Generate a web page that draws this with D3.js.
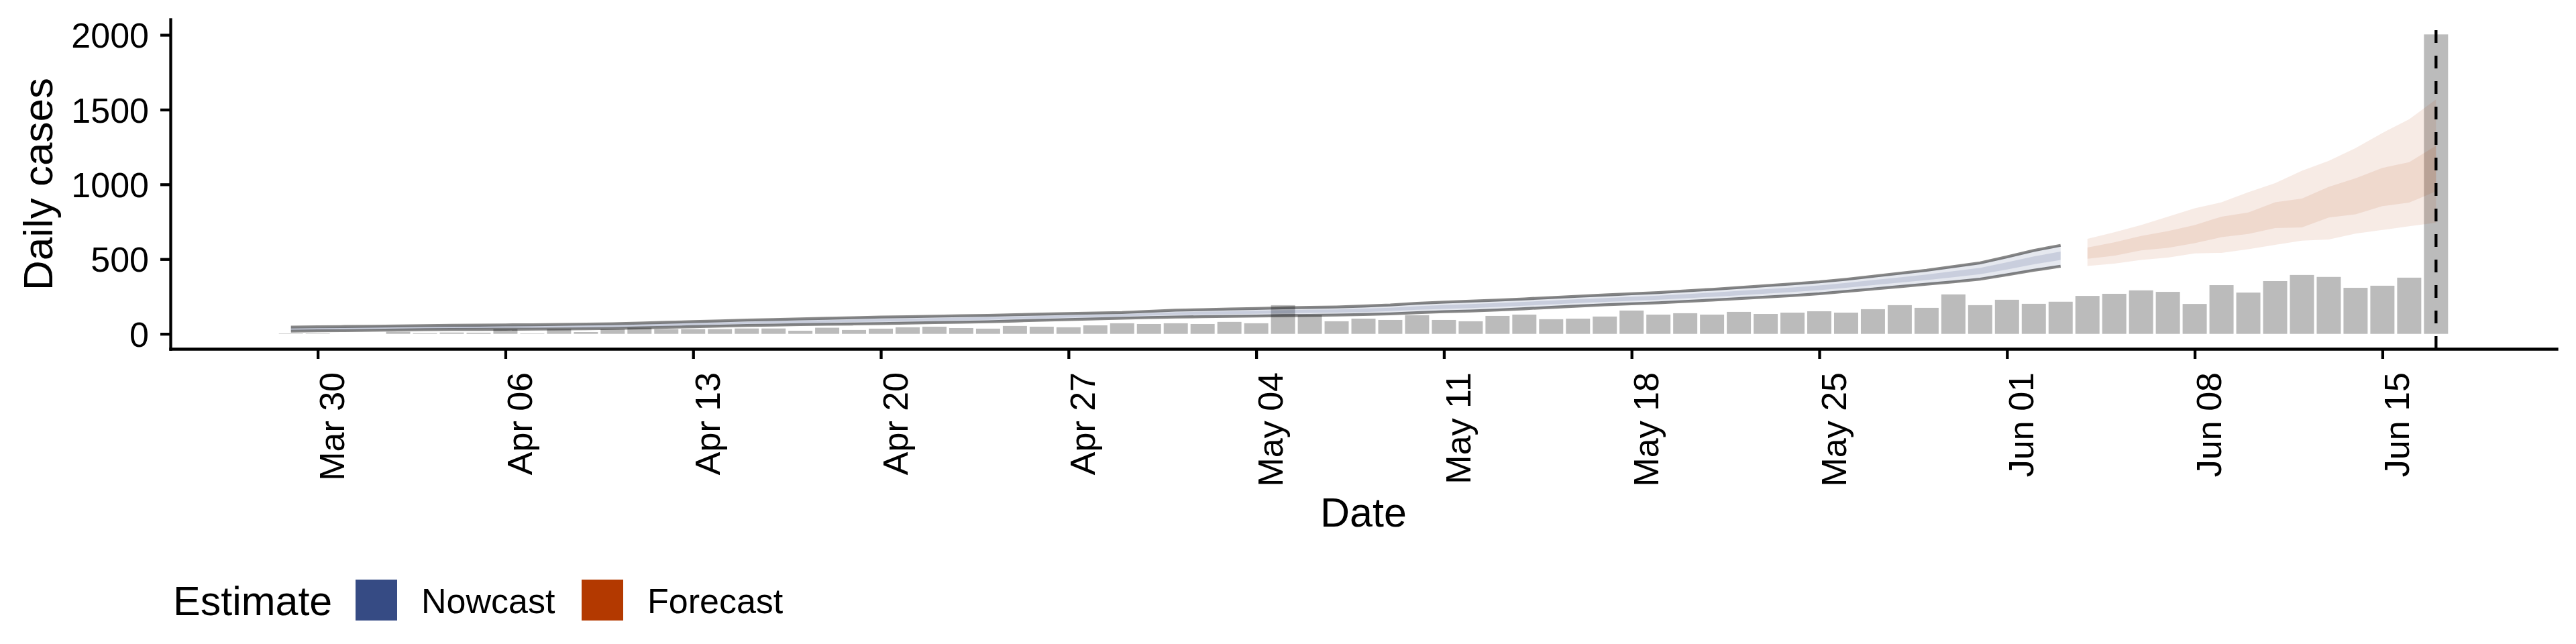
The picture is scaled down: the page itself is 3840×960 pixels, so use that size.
<!DOCTYPE html>
<html><head><meta charset="utf-8">
<script src="https://cdn.jsdelivr.net/npm/d3@7"></script>
<style>
body{margin:0;background:#fff}
svg text{font-family:"Liberation Sans",Arial,Helvetica,sans-serif;fill:#000}
</style>
</head><body>
<svg id="chart" width="3840" height="960"></svg>
<script>
// ---------------- data ----------------
const caseStart = "2020-03-29";          // first reported-case date (daily)
const cases = [3,3,0,0,14,5,9,8,32,3,32,12,32,41,32,32,32,36,36,21,41,26,
  35,44,48,39,35,53,48,44,57,71,66,
  71,66,80,71,192,125,84,102,93,125,93,84,120,129,98,102,116,156,129,138,129,147,133,142,151,142,165,192,174,264,192,
  228,201,215,254,268,291,281,200,326,276,353,394,381,308,322,376,2003];

const nowcastStart = "2020-03-29";       // nowcast ribbons, daily to Jun 03
const nowLower90 = [18,20,22,24,26,28,29,30,31,32,33,34,36,40,44,48,52,56,59,62,64,66,69,72,75,78,81,86,91,96,100,105,109,
  112,115,117,119,122,124,126,129,134,142,148,153,160,168,177,186,194,201,208,217,226,236,246,256,268,284,300,316,332,348,366,
  395,425,452];
const nowLower50 = [26,28,30,32,34,36,37,38,40,41,42,43,46,50,54,58,63,67,70,73,76,79,82,85,88,91,94,99,103,108,112,116,122,
  126,129,132,134,138,140,142,146,152,161,167,173,180,188,197,206,214,221,228,238,248,258,269,280,292,308,326,343,360,379,399,
  431,465,494];
const nowUpper50 = [37,39,41,43,45,47,49,50,51,52,54,56,58,62,67,72,76,81,85,89,92,95,99,102,105,108,111,115,120,124,127,132,138,
  144,148,151,155,158,161,164,169,175,185,193,199,206,214,223,232,240,248,256,266,276,288,299,311,324,341,360,378,397,419,442,
  479,518,550];
const nowUpper90 = [45,47,49,51,53,55,57,58,60,61,63,65,68,72,77,82,87,92,96,100,104,108,112,115,118,121,124,128,132,136,139,143,151,
  158,162,166,170,174,177,180,186,193,204,212,219,226,234,243,252,260,268,276,287,298,310,322,335,348,365,385,405,425,450,475,
  515,558,592];

const forecastStart = "2020-06-04";      // forecast ribbons, daily to Jun 17
const fcLower90 = [454,470,494,510,538,542,566,595,623,631,671,695,720,744];
const fcLower50 = [502,522,558,575,607,647,668,708,712,778,800,854,878,953];
const fcUpper50 = [578,612,655,687,728,784,812,880,905,983,1041,1110,1148,1258];
const fcUpper90 = [636,679,728,784,840,880,948,1008,1091,1157,1243,1344,1436,1568];

const estimateDate = "2020-06-17";
const yTicks = [0, 500, 1000, 1500, 2000];
const xTickDates = ["2020-03-30","2020-04-06","2020-04-13","2020-04-20","2020-04-27","2020-05-04",
  "2020-05-11","2020-05-18","2020-05-25","2020-06-01","2020-06-08","2020-06-15"];
const legendLabels = ["Nowcast", "Forecast"];
const legendColors = ["#364B84", "#B33900"];

// ---------------- layout ----------------
const W = 3840, H = 960;
const M = {left: 254, right: 3811, top: 29, bottom: 520};
const parse = d3.utcParse("%Y-%m-%d");
const DAY = 864e5;

const caseData = cases.map((v, i) => ({date: d3.utcDay.offset(parse(caseStart), i), v}));
const nowData = nowLower90.map((_, i) => ({date: d3.utcDay.offset(parse(nowcastStart), i),
  l90: nowLower90[i], l50: nowLower50[i], u50: nowUpper50[i], u90: nowUpper90[i]}));
const fcData = fcLower90.map((_, i) => ({date: d3.utcDay.offset(parse(forecastStart), i),
  l90: fcLower90[i], l50: fcLower50[i], u50: fcUpper50[i], u90: fcUpper90[i]}));

const barW = 0.9; // in days
const lo = +caseData[0].date - barW / 2 * DAY, hi = +caseData[caseData.length - 1].date + barW / 2 * DAY;
const padX = 0.05 * (hi - lo);
const x = d3.scaleUtc().domain([new Date(lo - padX), new Date(hi + padX)]).range([M.left, M.right]);
const yMax = d3.max(caseData, d => d.v);
const y = d3.scaleLinear().domain([-0.05 * yMax, 1.05 * yMax]).range([M.bottom, M.top]);

const svg = d3.select("#chart");
svg.append("rect").attr("width", W).attr("height", H).attr("fill", "#fff");

// bars
svg.append("g").selectAll("rect").data(caseData.filter(d => d.v > 0)).join("rect")
  .attr("x", d => x(new Date(+d.date - barW / 2 * DAY)))
  .attr("width", d => x(new Date(+d.date + barW / 2 * DAY)) - x(new Date(+d.date - barW / 2 * DAY)))
  .attr("y", d => y(d.v))
  .attr("height", d => y(0) - y(d.v))
  .attr("fill", "#BBBBBB");

// nowcast ribbons
const area = (a, b) => d3.area().x(d => x(d.date)).y0(d => y(d[a])).y1(d => y(d[b]));
const gNow = svg.append("g");
gNow.append("path").datum(nowData).attr("d", area("l90", "u90")).attr("fill", legendColors[0]).attr("fill-opacity", 0.13);
gNow.append("path").datum(nowData).attr("d", area("l50", "u50")).attr("fill", legendColors[0]).attr("fill-opacity", 0.16);
["l90", "u90"].forEach(k => {
  gNow.append("path").datum(nowData)
    .attr("d", d3.line().x(d => x(d.date)).y(d => y(d[k])))
    .attr("fill", "none").attr("stroke", "#000").attr("stroke-opacity", 0.47).attr("stroke-width", 4.3);
});

// forecast ribbons
const gFc = svg.append("g");
gFc.append("path").datum(fcData).attr("d", area("l90", "u90")).attr("fill", legendColors[1]).attr("fill-opacity", 0.1);
gFc.append("path").datum(fcData).attr("d", area("l50", "u50")).attr("fill", legendColors[1]).attr("fill-opacity", 0.1);

// dashed estimate-date line
const xe = x(parse(estimateDate));
svg.append("line").attr("x1", xe).attr("x2", xe).attr("y1", M.bottom).attr("y2", M.top)
  .attr("stroke", "#000").attr("stroke-width", 4.3).attr("stroke-dasharray", "19,19");

// axes
const yAxis = svg.append("g").attr("transform", `translate(${M.left},0)`)
  .call(d3.axisLeft(y).tickValues(yTicks).tickSize(15).tickSizeOuter(0).tickPadding(17).tickFormat(d3.format("d")));
const xAxis = svg.append("g").attr("transform", `translate(0,${M.bottom})`)
  .call(d3.axisBottom(x).tickValues(xTickDates.map(parse)).tickSize(15).tickSizeOuter(0).tickFormat(d3.utcFormat("%b %d")));
[yAxis, xAxis].forEach(g => {
  g.attr("font-family", null).attr("font-size", null);
  g.select(".domain").attr("stroke", "#000").attr("stroke-width", 4.3).attr("stroke-linecap", "square");
  g.selectAll(".tick line").attr("stroke", "#000").attr("stroke-width", 4.3);
  g.selectAll(".tick text").style("font-size", "52px").attr("fill", "#000");
});
yAxis.selectAll(".tick text").attr("dy", "0.36em");
xAxis.selectAll(".tick text")
  .attr("transform", "rotate(-90)")
  .attr("x", -35).attr("y", 39).attr("dy", 0)
  .style("text-anchor", "end");

// axis titles
svg.append("text").attr("x", (M.left + M.right) / 2).attr("y", 785)
  .attr("text-anchor", "middle").style("font-size", "61px").text("Date");
svg.append("text").attr("transform", `translate(78,${(M.top + M.bottom) / 2}) rotate(-90)`)
  .attr("text-anchor", "middle").style("font-size", "62px").text("Daily cases");

// legend
const lg = svg.append("g");
lg.append("text").attr("x", 258).attr("y", 917).style("font-size", "61px").text("Estimate");
const keyX = [530, 867];
legendLabels.forEach((lab, i) => {
  lg.append("rect").attr("x", keyX[i]).attr("y", 864).attr("width", 62).attr("height", 61).attr("fill", legendColors[i]);
  lg.append("text").attr("x", keyX[i] + 98).attr("y", 914).style("font-size", "52px").text(lab);
});
</script>
</body></html>
